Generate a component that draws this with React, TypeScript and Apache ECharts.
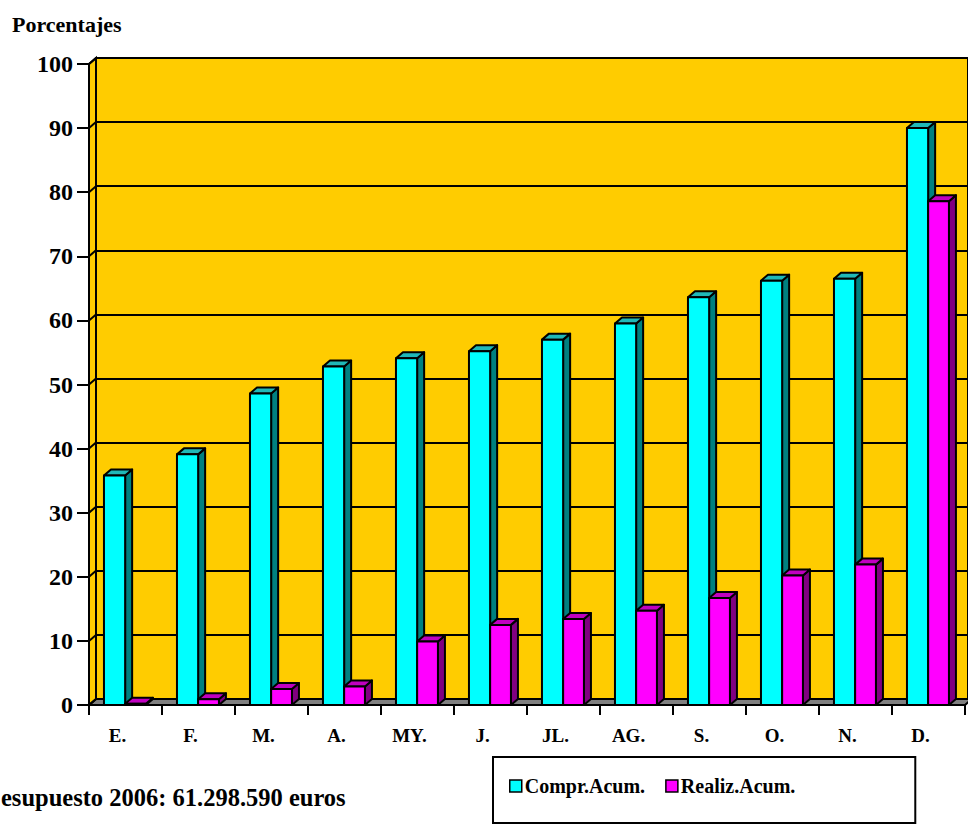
import React, { useEffect, useRef } from "react";
import * as echarts from "echarts";

const categories = ["E.", "F.", "M.", "A.", "MY.", "J.", "JL.", "AG.", "S.", "O.", "N.", "D."];
const comprAcum = [35.8, 39.1, 48.6, 52.8, 54.1, 55.2, 57.0, 59.5, 63.6, 66.2, 66.5, 90.0];
const realizAcum = [0.2, 0.9, 2.5, 2.9, 9.9, 12.5, 13.4, 14.7, 16.7, 20.2, 21.9, 78.6];
const yTicks = [0, 10, 20, 30, 40, 50, 60, 70, 80, 90, 100];
const seriesNames = ["Compr.Acum.", "Realiz.Acum."];
const titleText = "Porcentajes";
const noteText = "esupuesto 2006: 61.298.590 euros";

const FONT = '"Liberation Serif", "Times New Roman", serif';
const DX = 7;
const DY = 6;

function makeBarRender(offsetFrac: number, widthFrac: number, front: string, side: string, top: string) {
  return (params: any, api: any) => {
    const i = api.value(0);
    const v = api.value(1);
    const band = api.size([1, 0])[0];
    const c = api.coord([i, v]);
    const b = api.coord([i, 0]);
    const x0 = c[0] - band / 2 + offsetFrac * band;
    const w = widthFrac * band;
    const y0 = c[1];
    const y1 = b[1];
    const stroke = { stroke: "#000", lineWidth: 2, lineJoin: "round" };
    return {
      type: "group",
      children: [
        {
          type: "polygon",
          shape: { points: [[x0 + w, y0], [x0 + w + DX, y0 - DY], [x0 + w + DX, y1 - DY], [x0 + w, y1]] },
          style: { fill: side, ...stroke },
        },
        {
          type: "polygon",
          shape: { points: [[x0, y0], [x0 + DX, y0 - DY], [x0 + w + DX, y0 - DY], [x0 + w, y0]] },
          style: { fill: top, ...stroke },
        },
        {
          type: "rect",
          shape: { x: x0, y: y0, width: w, height: Math.max(0, y1 - y0) },
          style: { fill: front, ...stroke },
        },
      ],
    };
  };
}

function wallsRender(params: any, api: any) {
  const cs = params.coordSys;
  const x = cs.x;
  const y = cs.y;
  const w = cs.width;
  const h = cs.height;
  const children: any[] = [
    {
      type: "polygon",
      shape: { points: [[x, y + h], [x + DX, y + h - DY], [x + w + DX, y + h - DY], [x + w, y + h]] },
      style: { fill: "#808080", stroke: "#000", lineWidth: 2 },
    },
    {
      type: "polygon",
      shape: { points: [[x, y], [x + DX, y - DY], [x + DX, y + h - DY], [x, y + h]] },
      style: { fill: "#FFCC00", stroke: "#000", lineWidth: 2 },
    },
  ];
  yTicks.forEach((t) => {
    const p = api.coord([0, t]);
    children.push({
      type: "line",
      shape: { x1: x, y1: p[1], x2: x + DX, y2: p[1] - DY },
      style: { stroke: "#000", lineWidth: 2 },
    });
  });
  return { type: "group", children };
}

export default function App() {
  const ref = useRef<HTMLDivElement>(null);
  useEffect(() => {
    document.body.style.margin = "0";
    const chart = echarts.init(ref.current!, null, { renderer: "svg" });
    chart.setOption({
      animation: false,
      backgroundColor: "#fff",
      title: {
        text: titleText,
        left: 12,
        top: 13,
        padding: 0,
        textStyle: { fontFamily: FONT, fontWeight: "bold", fontSize: 22, color: "#000" },
      },
      legend: {
        data: seriesNames,
        left: 493,
        top: 757,
        orient: "horizontal",
        padding: [19, 120, 27, 16],
        borderColor: "#000",
        borderWidth: 2,
        itemWidth: 12,
        itemHeight: 12,
        itemGap: 20,
        icon: "rect",
        itemStyle: { borderColor: "#000", borderWidth: 1.5 },
        textStyle: { fontFamily: FONT, fontWeight: "bold", fontSize: 20, color: "#000", padding: [0, 0, 0, -2] },
      },
      grid: [
        { left: 89, top: 64, width: 876, height: 641 },
        {
          left: 96,
          top: 58,
          width: 876,
          height: 641,
          show: true,
          backgroundColor: "#FFCC00",
          borderColor: "#000",
          borderWidth: 2,
          z: 0,
        },
      ],
      xAxis: [
        {
          type: "category",
          gridIndex: 0,
          data: categories,
          boundaryGap: true,
          axisLine: { show: true, lineStyle: { color: "#000", width: 2 } },
          axisTick: { show: true, length: 10, lineStyle: { color: "#000", width: 2 } },
          axisLabel: {
            margin: 21,
            padding: [0, 16, 0, 0],
            fontFamily: FONT,
            fontWeight: "bold",
            fontSize: 19,
            color: "#000",
          },
          splitLine: { show: false },
          z: 5,
        },
        {
          type: "category",
          gridIndex: 1,
          data: categories,
          show: false,
        },
      ],
      yAxis: [
        {
          type: "value",
          gridIndex: 0,
          min: 0,
          max: 100,
          interval: 10,
          axisLine: { show: true, lineStyle: { color: "#000", width: 2 } },
          axisTick: { show: true, length: 12, lineStyle: { color: "#000", width: 2 } },
          axisLabel: { margin: 16, fontFamily: FONT, fontWeight: "bold", fontSize: 24, color: "#000" },
          splitLine: { show: false },
          z: 5,
        },
        {
          type: "value",
          gridIndex: 1,
          min: 0,
          max: 100,
          interval: 10,
          axisLine: { show: false },
          axisTick: { show: false },
          axisLabel: { show: false },
          splitLine: { show: true, lineStyle: { color: "#000", width: 2 } },
        },
      ],
      graphic: [
        {
          type: "text",
          x: 1,
          y: 797,
          style: {
            text: noteText,
            align: "left",
            verticalAlign: "middle",
            font: 'bold 24.5px "Liberation Serif", "Times New Roman", serif',
            fill: "#000",
          },
        },
      ],
      series: [
        {
          type: "custom",
          name: "walls",
          xAxisIndex: 0,
          yAxisIndex: 0,
          data: [[0, 0]],
          renderItem: wallsRender,
          clip: false,
          silent: true,
          z: 1,
        },
        {
          type: "custom",
          name: seriesNames[0],
          xAxisIndex: 0,
          yAxisIndex: 0,
          data: comprAcum.map((v, i) => [i, v]),
          renderItem: makeBarRender(0.205, 0.29, "#00FFFF", "#008080", "#20B8B8"),
          itemStyle: { color: "#00FFFF" },
          clip: false,
          z: 3,
        },
        {
          type: "custom",
          name: seriesNames[1],
          xAxisIndex: 0,
          yAxisIndex: 0,
          data: realizAcum.map((v, i) => [i, v]),
          renderItem: makeBarRender(0.495, 0.285, "#FF00FF", "#800080", "#C000C0"),
          itemStyle: { color: "#FF00FF" },
          clip: false,
          z: 4,
        },
      ],
    });
    return () => chart.dispose();
  }, []);
  return <div ref={ref} style={{ width: 968, height: 839 }} />;
}
